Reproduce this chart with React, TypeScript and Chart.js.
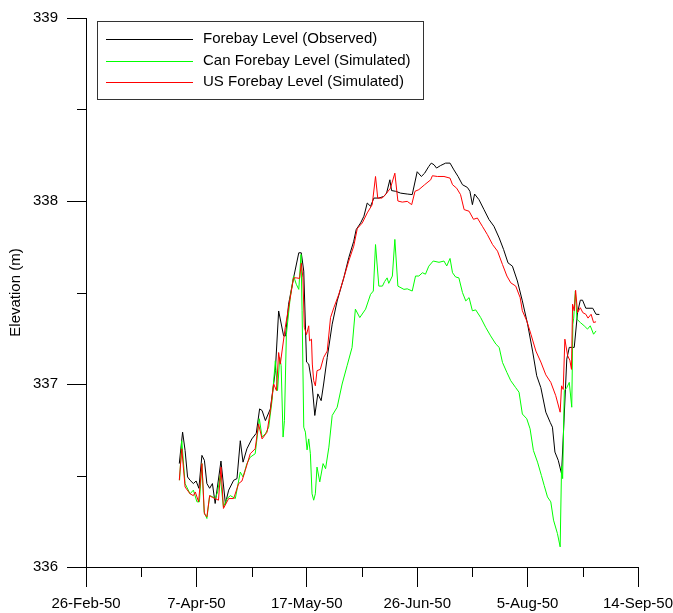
import React, { useEffect, useRef } from "react";
import { Chart, registerables } from "chart.js";

Chart.register(...registerables);

// Day offsets from 26-Feb-1950 and elevation (m)
const observedLevel: [number, number][] = [
  [33.8,336.565],[35.0,336.737],[35.9,336.637],[36.8,336.492],[37.7,336.474],[38.9,336.456],[39.9,336.47],[40.9,336.43],
  [42.0,336.61],[42.9,336.583],[43.8,336.456],[44.8,336.43],[45.8,336.456],[46.8,336.347],[48.9,336.579],[50.5,336.347],
  [51.7,336.42],[53.5,336.474],[54.7,336.483],[55.9,336.69],[56.9,336.573],[58.3,336.646],[60.1,336.70],[61.7,336.731],
  [62.9,336.864],[63.8,336.855],[65.0,336.80],[66.8,336.864],[68.6,337.073],[69.8,337.399],[71.6,337.263],[72.3,337.263],
  [73.4,337.436],[75.2,337.58],[77.1,337.717],[78.0,337.717],[78.9,337.617],[79.9,337.12],[80.7,337.109],[81.9,337.0],
  [82.9,336.828],[84.0,336.946],[85.2,336.909],[86.1,337.0],[87.4,337.145],[89.2,337.327],[91.0,337.454],[93.4,337.58],
  [95.2,337.69],[97.0,337.78],[97.9,337.844],[99.5,337.88],[100.7,337.917],[101.9,337.989],[103.1,337.971],[104.3,338.016],
  [106.1,338.016],[107.9,338.025],[108.9,338.043],[110.1,338.116],[110.7,338.057],[112.2,338.053],[114.0,338.043],
  [116.4,338.038],[118.2,338.035],[120.0,338.16],[121.5,338.134],[122.7,338.152],[124.2,338.189],[125.1,338.207],
  [126.1,338.198],[127.0,338.18],[128.5,338.194],[130.3,338.207],[131.9,338.207],[133.3,338.17],[134.8,338.134],
  [136.4,338.089],[138.2,338.074],[139.1,338.053],[140.0,337.98],[140.8,338.038],[142.4,338.007],[144.2,337.953],
  [146.0,337.899],[147.8,337.862],[149.7,337.798],[151.3,337.735],[152.9,337.662],[154.5,337.644],[156.3,337.563],
  [158.1,337.454],[160.0,337.327],[161.8,337.18],[163.3,337.045],[164.8,336.98],[166.6,336.846],[168.2,336.79],
  [169.0,336.764],[169.9,336.628],[171.1,336.583],[172.3,336.51],[173.3,336.836],[174.2,337.136],[175.1,337.2],
  [176.9,337.2],[178.1,337.39],[179.1,337.458],[179.9,337.458],[181.1,337.414],[183.6,337.414],[184.8,337.381],[186.0,337.38],
];

const canLevel: [number, number][] = [
  [33.9,336.474],[34.7,336.69],[35.9,336.456],[37.7,336.40],[38.9,336.42],[40.2,336.356],[41.1,336.356],[42.0,336.565],
  [42.8,336.30],[43.8,336.265],[44.8,336.39],[46.0,336.383],[46.8,336.374],[47.7,336.41],[48.6,336.50],[49.8,336.328],
  [51.1,336.374],[52.3,336.39],[54.1,336.374],[55.9,336.519],[56.9,336.492],[58.3,336.565],[59.5,336.60],[61.3,336.619],
  [62.8,336.81],[63.8,336.71],[65.0,336.728],[66.2,336.764],[67.4,336.909],[68.6,337.127],[69.4,336.964],[70.2,337.145],
  [70.7,337.10],[71.4,336.71],[71.9,336.80],[72.6,337.272],[74.0,337.472],[75.2,337.59],[76.2,337.545],[77.1,337.517],
  [77.9,337.708],[78.3,337.40],[78.9,336.764],[79.5,336.737],[80.1,336.64],[80.7,336.70],[81.3,336.619],[81.9,336.40],
  [82.5,336.365],[83.1,336.40],[83.7,336.546],[84.7,336.465],[85.9,336.565],[86.8,336.537],[88.0,336.655],[89.2,336.828],
  [91.0,336.873],[92.8,337.0],[94.6,337.10],[96.4,337.2],[97.6,337.409],[99.2,337.363],[101.3,337.409],[103.1,337.49],
  [104.1,337.508],[104.9,337.762],[106.1,337.535],[107.4,337.535],[108.2,337.56],[109.1,337.58],[109.7,337.55],
  [111.0,337.59],[111.9,337.79],[113.0,337.535],[115.2,337.517],[116.4,337.52],[118.2,337.508],[119.4,337.59],
  [120.6,337.59],[121.9,337.608],[123.0,337.60],[124.2,337.644],[125.8,337.672],[127.9,337.665],[129.7,337.672],
  [130.7,337.645],[131.9,337.686],[132.8,337.608],[133.9,337.585],[135.1,337.58],[136.4,337.50],[137.6,337.454],
  [138.8,337.472],[140.0,337.40],[141.2,337.405],[143.0,337.363],[144.8,337.31],[146.6,337.263],[148.5,337.218],
  [149.7,337.20],[150.9,337.118],[152.5,337.063],[153.9,337.018],[155.7,336.98],[156.9,336.955],[158.1,336.836],
  [159.7,336.81],[160.9,336.755],[162.1,336.637],[163.6,336.573],[165.0,336.50],[166.0,336.446],[167.2,336.383],
  [168.4,336.356],[169.4,336.256],[170.8,336.183],[171.8,336.11],[172.3,336.55],[172.7,336.483],[173.3,336.964],
  [174.2,336.98],[175.1,337.009],[176.0,336.873],[176.4,337.327],[176.7,337.36],[177.3,337.508],[177.9,337.354],
  [179.1,337.336],[180.5,337.318],[181.7,337.30],[182.7,337.318],[183.9,337.272],[184.8,337.29],
];

const usLevel: [number, number][] = [
  [33.8,336.474],[34.7,336.646],[35.9,336.437],[37.7,336.40],[38.9,336.39],[39.6,336.41],[40.8,336.356],[42.0,336.565],
  [42.9,336.29],[43.8,336.274],[44.8,336.39],[45.8,336.38],[46.8,336.374],[48.0,336.365],[48.9,336.546],[49.8,336.32],
  [51.7,336.374],[53.5,336.374],[55.3,336.456],[56.5,336.47],[57.7,336.528],[59.5,336.619],[61.3,336.646],[62.5,336.782],
  [63.8,336.70],[65.6,336.737],[66.8,336.855],[68.0,337.0],[69.0,336.964],[69.8,337.172],[70.4,337.109],[72.2,337.31],
  [75.2,337.58],[76.2,337.58],[77.4,337.577],[78.0,337.66],[78.6,337.58],[79.1,337.31],[79.9,337.27],[80.7,337.318],
  [81.0,337.236],[81.7,337.245],[82.0,337.109],[82.5,337.018],[83.1,336.99],[83.7,337.073],[84.9,337.08],[86.1,337.145],
  [87.4,337.18],[88.6,337.363],[89.8,337.417],[91.6,337.49],[93.4,337.58],[95.2,337.672],[97.0,337.753],[98.3,337.85],
  [100.1,337.88],[101.9,337.935],[103.7,337.98],[104.9,338.134],[105.7,338.016],[107.3,338.016],[108.5,338.035],
  [110.3,338.07],[111.9,338.152],[113.0,338.0],[114.6,337.994],[116.4,337.998],[118.0,337.98],[119.2,338.053],
  [120.6,338.062],[122.7,338.089],[124.9,338.116],[125.5,338.138],[127.3,338.134],[129.7,338.134],[131.9,338.125],
  [132.8,338.089],[134.3,338.07],[135.7,338.035],[137.0,337.953],[138.8,337.944],[140.4,337.90],[141.8,337.907],
  [143.6,337.862],[145.4,337.817],[147.3,337.762],[149.1,337.726],[150.9,337.653],[152.5,337.59],[153.9,337.553],
  [155.7,337.535],[157.3,337.472],[158.1,337.40],[159.7,337.345],[161.2,337.272],[163.0,337.18],[164.8,337.12],
  [166.6,337.05],[168.4,337.009],[170.2,336.936],[171.8,336.846],[172.3,336.99],[172.9,336.97],[173.5,337.245],
  [174.5,337.155],[175.3,337.13],[175.9,337.08],[176.3,337.436],[176.9,337.40],[177.4,337.512],[178.1,337.39],
  [179.1,337.417],[180.0,337.39],[181.1,337.381],[181.9,337.36],[183.0,337.381],[183.9,337.336],[184.8,337.34],
];

const seriesNames = [
  "Forebay Level (Observed)",
  "Can Forebay Level (Simulated)",
  "US Forebay Level (Simulated)",
];
const seriesColors = ["#000000", "#00ff00", "#ff0000"];

const xTickDays = [0, 40, 80, 120, 160, 200];
const xTickLabels = ["26-Feb-50", "7-Apr-50", "17-May-50", "26-Jun-50", "5-Aug-50", "14-Sep-50"];
const xMinorDays = [20, 60, 100, 140, 180];
const yTicks = [336, 337, 338, 339];
const yMinor = [336.5, 337.5, 338.5];

const FONT = "'Liberation Sans', Arial, sans-serif";

const extrasPlugin = {
  id: "extras",
  afterDraw(chart: any) {
    const ctx = chart.ctx as CanvasRenderingContext2D;
    const { left, bottom } = chart.chartArea;
    const xs = chart.scales.x;
    const ys = chart.scales.y;
    ctx.save();
    ctx.strokeStyle = "#000";
    ctx.lineWidth = 1;
    ctx.beginPath();
    for (const d of xMinorDays) {
      const px = Math.round(xs.getPixelForValue(d)) + 0.5;
      ctx.moveTo(px, bottom);
      ctx.lineTo(px, bottom + 10);
    }
    for (const v of yMinor) {
      const py = Math.round(ys.getPixelForValue(v)) + 0.5;
      ctx.moveTo(left - 9, py);
      ctx.lineTo(left, py);
    }
    ctx.stroke();

    // legend
    const bx = 97.5, by = 21.5, bw = 326, bh = 78;
    ctx.fillStyle = "#fff";
    ctx.fillRect(bx, by, bw, bh);
    ctx.strokeStyle = "#333";
    ctx.strokeRect(bx, by, bw, bh);
    const rows = [39, 60.5, 81.5];
    ctx.font = `15px ${FONT}`;
    ctx.textBaseline = "middle";
    ctx.textAlign = "left";
    seriesNames.forEach((name, i) => {
      const y = Math.round(rows[i]) + 0.5;
      ctx.strokeStyle = seriesColors[i];
      ctx.beginPath();
      ctx.moveTo(106, y);
      ctx.lineTo(193, y);
      ctx.stroke();
      ctx.fillStyle = "#000";
      ctx.fillText(name, 203, rows[i]);
    });
    ctx.restore();
  },
};

export default function App() {
  const ref = useRef<HTMLCanvasElement | null>(null);
  useEffect(() => {
    if (!ref.current) return;
    const mk = (arr: [number, number][]) => arr.map(([x, y]) => ({ x, y }));
    const chart = new Chart(ref.current, {
      type: "line",
      data: {
        datasets: [
          { label: seriesNames[0], data: mk(observedLevel), borderColor: seriesColors[0], borderWidth: 1, pointRadius: 0, tension: 0, order: 3 },
          { label: seriesNames[1], data: mk(canLevel), borderColor: seriesColors[1], borderWidth: 1, pointRadius: 0, tension: 0, order: 2 },
          { label: seriesNames[2], data: mk(usLevel), borderColor: seriesColors[2], borderWidth: 1, pointRadius: 0, tension: 0, order: 1 },
        ],
      },
      options: {
        responsive: false,
        animation: false,
        devicePixelRatio: 1,
        layout: { padding: { top: 16, right: 62, left: 0, bottom: 0 } },
        plugins: { legend: { display: false }, tooltip: { enabled: false } },
        scales: {
          x: {
            type: "linear",
            min: 0,
            max: 200,
            afterBuildTicks: (s: any) => { s.ticks = xTickDays.map((v) => ({ value: v })); },
            afterFit: (s: any) => { s.height = 46; },
            ticks: {
              autoSkip: false,
              maxRotation: 0,
              padding: 8,
              color: "#000",
              font: { family: FONT, size: 15 },
              callback: (v: any) => {
                const i = xTickDays.indexOf(Number(v));
                return i >= 0 ? xTickLabels[i] : "";
              },
            },
            grid: { drawOnChartArea: false, drawTicks: true, tickLength: 20, color: "#000", lineWidth: 1 },
            border: { display: true, color: "#000", width: 1 },
          },
          y: {
            type: "linear",
            min: 336,
            max: 339,
            afterBuildTicks: (s: any) => { s.ticks = yTicks.map((v) => ({ value: v })); },
            afterFit: (s: any) => { s.width = 86; },
            ticks: {
              padding: 9,
              color: "#000",
              font: { family: FONT, size: 15 },
              callback: (v: any) => String(v),
            },
            title: {
              display: true,
              text: "Elevation (m)",
              color: "#000",
              font: { family: FONT, size: 15 },
              padding: { top: 7, bottom: 0 },
            },
            grid: { drawOnChartArea: false, drawTicks: true, tickLength: 19, color: "#000", lineWidth: 1 },
            border: { display: true, color: "#000", width: 1 },
          },
        },
      },
      plugins: [extrasPlugin],
    });
    return () => chart.destroy();
  }, []);
  return (
    <div style={{ position: "absolute", left: 0, top: 0, width: 673, height: 613, overflow: "hidden", background: "#fff" }}>
      <canvas ref={ref} width={700} height={613} style={{ width: 700, height: 613, display: "block" }} />
    </div>
  );
}
